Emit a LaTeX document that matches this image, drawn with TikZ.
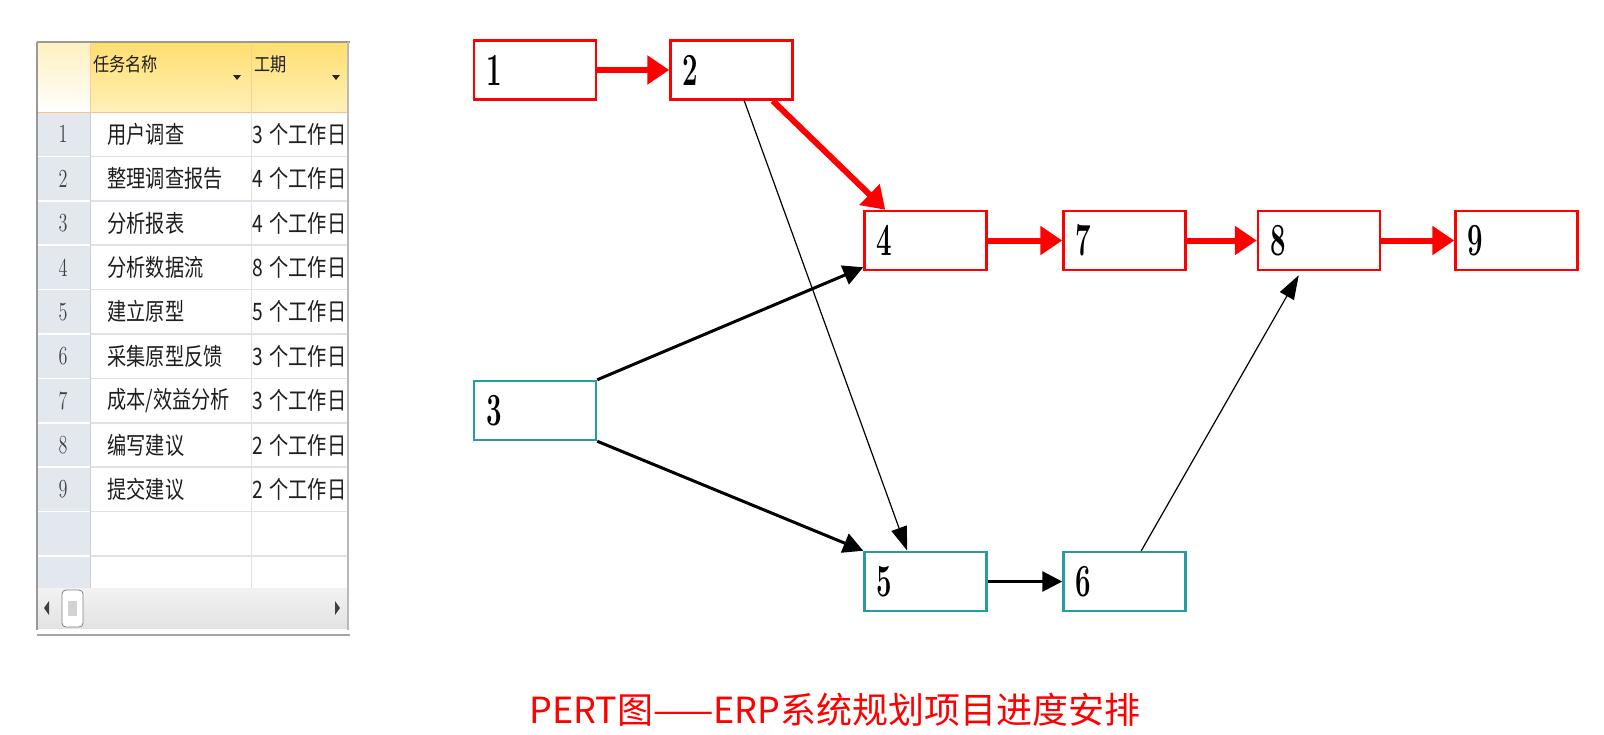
\documentclass[tikz,border=0pt]{standalone}
\usepackage{fontspec}
\newfontfamily\cjk{Noto Sans CJK SC}
\usepackage{graphicx}
\usepackage{xcolor}
\usetikzlibrary{arrows.meta}
\definecolor{tealbox}{RGB}{38,156,160}
\definecolor{gridcol}{RGB}{221,226,234}
\definecolor{numcol}{RGB}{227,232,239}
\definecolor{txtcol}{RGB}{30,30,30}
\definecolor{hdrtop}{RGB}{255,222,110}
\definecolor{hdrbot}{RGB}{255,240,185}
\newcommand{\boxnum}[1]{\scalebox{0.6}[1]{\fontsize{23}{23}\selectfont\bfseries #1}}
\newcommand{\celltxt}[1]{\scalebox{0.8}[1]{\cjk\fontsize{12}{12}\selectfont #1}}
\newcommand{\hdrtxt}[1]{\scalebox{0.85}[1]{\cjk\fontsize{9.5}{9.5}\selectfont #1}}
\newcommand{\rownum}[1]{\scalebox{0.7}[1]{\fontsize{13}{13}\selectfont #1}}

\begin{document}
\begin{tikzpicture}[x=0.5pt,y=-0.5pt,
  caixa/.style={draw, line width=1.25pt, minimum height=29.5pt, text width=49pt,
    inner xsep=6pt, inner ysep=0pt, align=left, fill=white},
  caixared/.style={caixa, draw=red},
  caixateal/.style={caixa, draw=tealbox},
  critica/.style={red, line width=3pt, -{Triangle[length=11pt,width=14pt]}},
  seta/.style={black, line width=1.5pt, -{Triangle[length=10pt,width=10pt]}},
  setafina/.style={black, line width=0.6pt, -{Triangle[length=12pt,width=8pt]}},
  celula/.style={anchor=west, inner sep=0pt, text=txtcol}]

\useasboundingbox (0,0) rectangle (1604,734);

% Tabela de tarefas
\fill[white] (37,42) rectangle (348,632);
\fill[numcol] (37,112) rectangle (90,588);
\shade[top color=hdrtop!45, bottom color=white] (37,42) rectangle (90,112);
\shade[top color=hdrtop, bottom color=hdrbot] (90,42) rectangle (348,112);
\draw[orange!40] (90,42) -- (90,112);
\draw[orange!40] (251,42) -- (251,112);
\draw[orange!50] (37,112) -- (348,112);

% Linhas da grade
\foreach \i in {1,...,10} {
  \draw[white, line width=0.8pt] (37,{112+44.4*\i}) -- (90,{112+44.4*\i});
  \draw[gridcol, line width=0.8pt] (90,{112+44.4*\i}) -- (348,{112+44.4*\i});
}
\draw[gridcol!80!gray] (90,112) -- (90,588);
\draw[gridcol] (251,112) -- (251,588);

% Barra de rolagem
\shade[top color=gray!10, bottom color=gray!22] (37,588) rectangle (348,628);
\fill[black!75] (44,608) -- (49,601) -- (49,615) -- cycle;
\fill[black!75] (340,608) -- (335,601) -- (335,615) -- cycle;
\draw[gray, rounded corners=2pt, fill=white] (62,590) rectangle (83,627);
\fill[gray!35] (68,601) rectangle (77,616);

% Bordas
\draw[gray!80, line width=0.8pt] (37,42) -- (350,42);
\draw[gray!80, line width=0.8pt] (37,42) -- (37,630);
\draw[gray!55, line width=0.8pt] (348,42) -- (348,630);
\draw[gray!70, line width=1pt] (37,635) -- (350,635);

% Cabeçalho
\node[celula] (cab1) at (93,64) {\hdrtxt{任务名称}};
\node[celula] (cab2) at (254,64) {\hdrtxt{工期}};
\fill[black!85] (233,75) -- (241,75) -- (237,80) -- cycle;
\fill[black!85] (332,75) -- (340,75) -- (336,80) -- cycle;

% Tarefas e durações
\foreach \nome [count=\i] in {用户调查, 整理调查报告, 分析报表, 分析数据流, 建立原型,
    采集原型反馈, 成本/效益分析, 编写建议, 提交建议} {
  \node[text=black!75] (linha\i) at (63,{112+44.4*(\i-0.5)}) {\rownum{\i}};
  \node[celula] (tarefa\i) at (107,{112+44.4*(\i-0.5)}) {\celltxt{\nome}};
}
\begin{scope}
\clip (251,112) rectangle (345,588);
\foreach \d [count=\i] in {3,4,4,8,5,3,3,2,2}
  \node[celula] (dur\i) at (252,{112+44.4*(\i-0.5)}) {\celltxt{\d\hspace{4pt}个工作日}};
\end{scope}

% Rede PERT
\node[caixared] (n1) at (535,70) {\boxnum{1}};
\node[caixared] (n2) at (731.5,70) {\boxnum{2}};
\node[caixared] (n4) at (925.5,240.5) {\boxnum{4}};
\node[caixared] (n7) at (1124.5,240.5) {\boxnum{7}};
\node[caixared] (n8) at (1319,240.5) {\boxnum{8}};
\node[caixared] (n9) at (1516.5,240.5) {\boxnum{9}};
\node[caixateal] (n3) at (535,410.5) {\boxnum{3}};
\node[caixateal] (n5) at (925.5,581.5) {\boxnum{5}};
\node[caixateal] (n6) at (1124.5,581.5) {\boxnum{6}};

% Caminho crítico
\draw[critica] (n1.east) -- (n2.west);
\draw[critica] ([xshift=-10.5pt]n2.south east) -- ([xshift=11pt]n4.north west);
\draw[critica] (n4.east) -- (n7.west);
\draw[critica] (n7.east) -- (n8.west);
\draw[critica] (n8.east) -- (n9.west);

% Demais dependências
\draw[setafina] ([xshift=37.5pt]n2.south west) -- ([xshift=22pt]n5.north west);
\draw[seta] (n3.north east) -- ([yshift=2pt]n4.south west);
\draw[seta] (n3.south east) -- (n5.north west);
\draw[seta] (n5.east) -- (n6.west);
\draw[setafina] ([xshift=39.5pt]n6.north west) -- ([xshift=21pt,yshift=-2pt]n8.south west);

% Legenda
\node[text=red] (legenda) at (835,710) {\cjk\fontsize{18}{18}\selectfont PERT图——ERP系统规划项目进度安排};

\end{tikzpicture}
\end{document}
